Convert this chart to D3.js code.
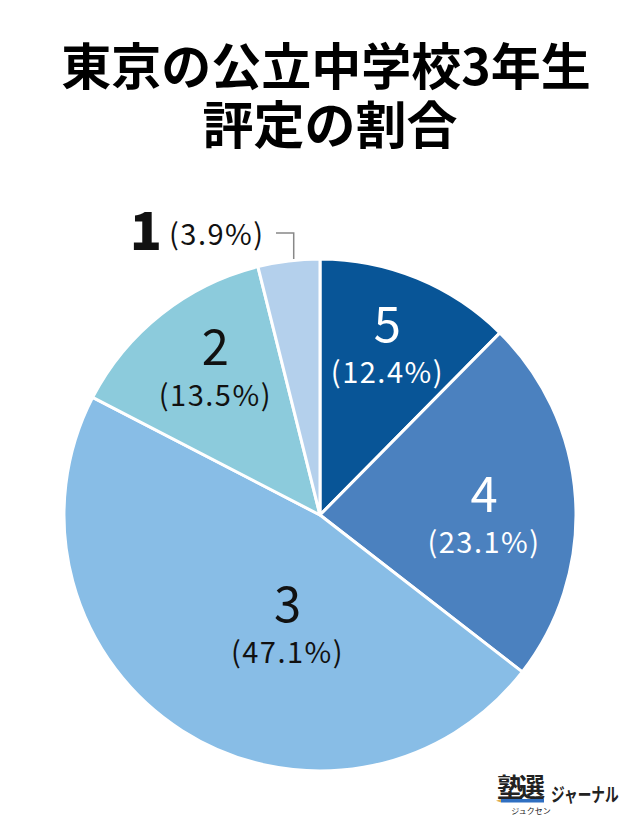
<!DOCTYPE html>
<html>
<head>
<meta charset="utf-8">
<script src="https://cdn.jsdelivr.net/npm/d3@7"></script>
<style>
  html, body { margin: 0; padding: 0; background: #fff; }
  svg { display: block; font-family: "Noto Sans CJK JP", "Noto Sans", sans-serif; }
</style>
</head>
<body>
<div id="chart"></div>
<script>
// 評定ごとの割合
const grades = ["5", "4", "3", "2", "1"];
const shares = [12.4, 23.1, 47.1, 13.5, 3.9];
const sliceColors = ["#085597", "#4b81bf", "#88bde6", "#8ccbdc", "#b4d0ec"];
const titleLines = ["東京の公立中学校3年生", "評定の割合"];

const W = 640, H = 827
, cx = 320, cy = 515
, radius = 256;

// label placement: angle (deg from top, clockwise) and distance from centre
const labelPlace = [
  {a: 22, r: 180, fill: "#fff"},
  {a: 91, r: 164, fill: "#fff"},
  {a: 196, r: 118, fill: "#111"},
  {a: 324, r: 178, fill: "#111"},
  null
];

const svg = d3.select("#chart").append("svg")
  .attr("width", W)
  .attr("height", H);

svg.append("rect").attr("width", W).attr("height", H).attr("fill", "#fff");

// title
svg.append("g").selectAll("text")
  .data(titleLines)
  .enter().append("text")
  .attr("x", (d, i) => i == 0 ? 326 : 330)
  .attr("y", (d, i) => 85 + i * 59)
  .attr("text-anchor", "middle")
  .attr("font-size", (d, i) => i == 0 ? 50 : 51)
  .attr("font-weight", 700)
  .attr("fill", "#000")
  .text(d => d);

const data = grades.map((g, i) => ({grade: g, value: shares[i], color: sliceColors[i], place: labelPlace[i]}));

const pie = d3.pie().sort(null).value(d => d.value);
const arc = d3.arc().innerRadius(0).outerRadius(radius);
const arcs = pie(data);

const g = svg.append("g").attr("transform", `translate(${cx},${cy})`);

g.selectAll(".slice")
  .data(arcs)
  .enter().append("path")
  .attr("class", "slice")
  .attr("d", arc)
  .attr("fill", d => d.data.color)
  .attr("stroke", "#fff")
  .attr("stroke-width", 3)
  .attr("stroke-linejoin", "round");

function polar(aDeg, r) {
  const a = aDeg * Math.PI / 180;
  return [r * Math.sin(a), -r * Math.cos(a)];
}

// inner labels
const inner = g.selectAll(".lbl")
  .data(arcs.filter(d => d.data.place))
  .enter().append("g")
  .attr("class", "lbl")
  .attr("transform", d => {
    const p = polar(d.data.place.a, d.data.place.r);
    return `translate(${p[0]},${p[1]})`;
  });

inner.append("text")
  .attr("y", -6)
  .attr("text-anchor", "middle")
  .attr("font-size", 49)
  .attr("font-weight", 400)
  .attr("fill", d => d.data.place.fill)
  .text(d => d.data.grade);

inner.append("text")
  .attr("y", 35)
  .attr("text-anchor", "middle")
  .attr("font-size", 29)
  .attr("letter-spacing", 1.5)
  .attr("fill", d => d.data.place.fill)
  .text(d => `(${d.data.value.toFixed(1)}%)`);

// outside label for the small slice
const small = arcs[4];
const midA = (small.startAngle + small.endAngle) / 2 * 180 / Math.PI;
const edge = polar(midA, radius);
const elbowY = 233 - cy;
svg.append("path")
  .attr("transform", `translate(${cx},${cy})`)
  .attr("d", `M${edge[0] + 5},${edge[1] - 2} V${elbowY} H${276 - cx}`)
  .attr("fill", "none")
  .attr("stroke", "#888")
  .attr("stroke-width", 1.5);

svg.append("text")
  .attr("x", 162)
  .attr("y", 250)
  .attr("text-anchor", "end")
  .attr("font-size", 53)
  .attr("font-weight", 900)
  .attr("fill", "#111")
  .text(small.data.grade);

svg.append("text")
  .attr("x", 169)
  .attr("y", 245)
  .attr("font-size", 29)
  .attr("letter-spacing", 1.5)
  .attr("fill", "#111")
  .text(`(${small.data.value.toFixed(1)}%)`);

// logo
const logo = svg.append("g");
logo.append("text")
  .attr("x", 497).attr("y", 797)
  .attr("font-size", 26).attr("font-weight", 700).attr("fill", "#222")
  .attr("textLength", 48)
  .text("塾選");
logo.append("rect")
  .attr("x", 501).attr("y", 799).attr("width", 43).attr("height", 3.5)
  .attr("fill", "#2f6fc1");
logo.append("path")
  .attr("d", "M501,799 L496,800.75 L501,802.5 Z")
  .attr("fill", "#e3b04b");
logo.append("text")
  .attr("x", 531).attr("y", 814)
  .attr("text-anchor", "middle")
  .attr("font-size", 8).attr("fill", "#222")
  .text("ジュクセン");
logo.append("text")
  .attr("transform", "translate(551,802) scale(0.72,1)")
  .attr("font-size", 19).attr("font-weight", 700).attr("fill", "#222")
  .text("ジャーナル");
</script>
</body>
</html>
